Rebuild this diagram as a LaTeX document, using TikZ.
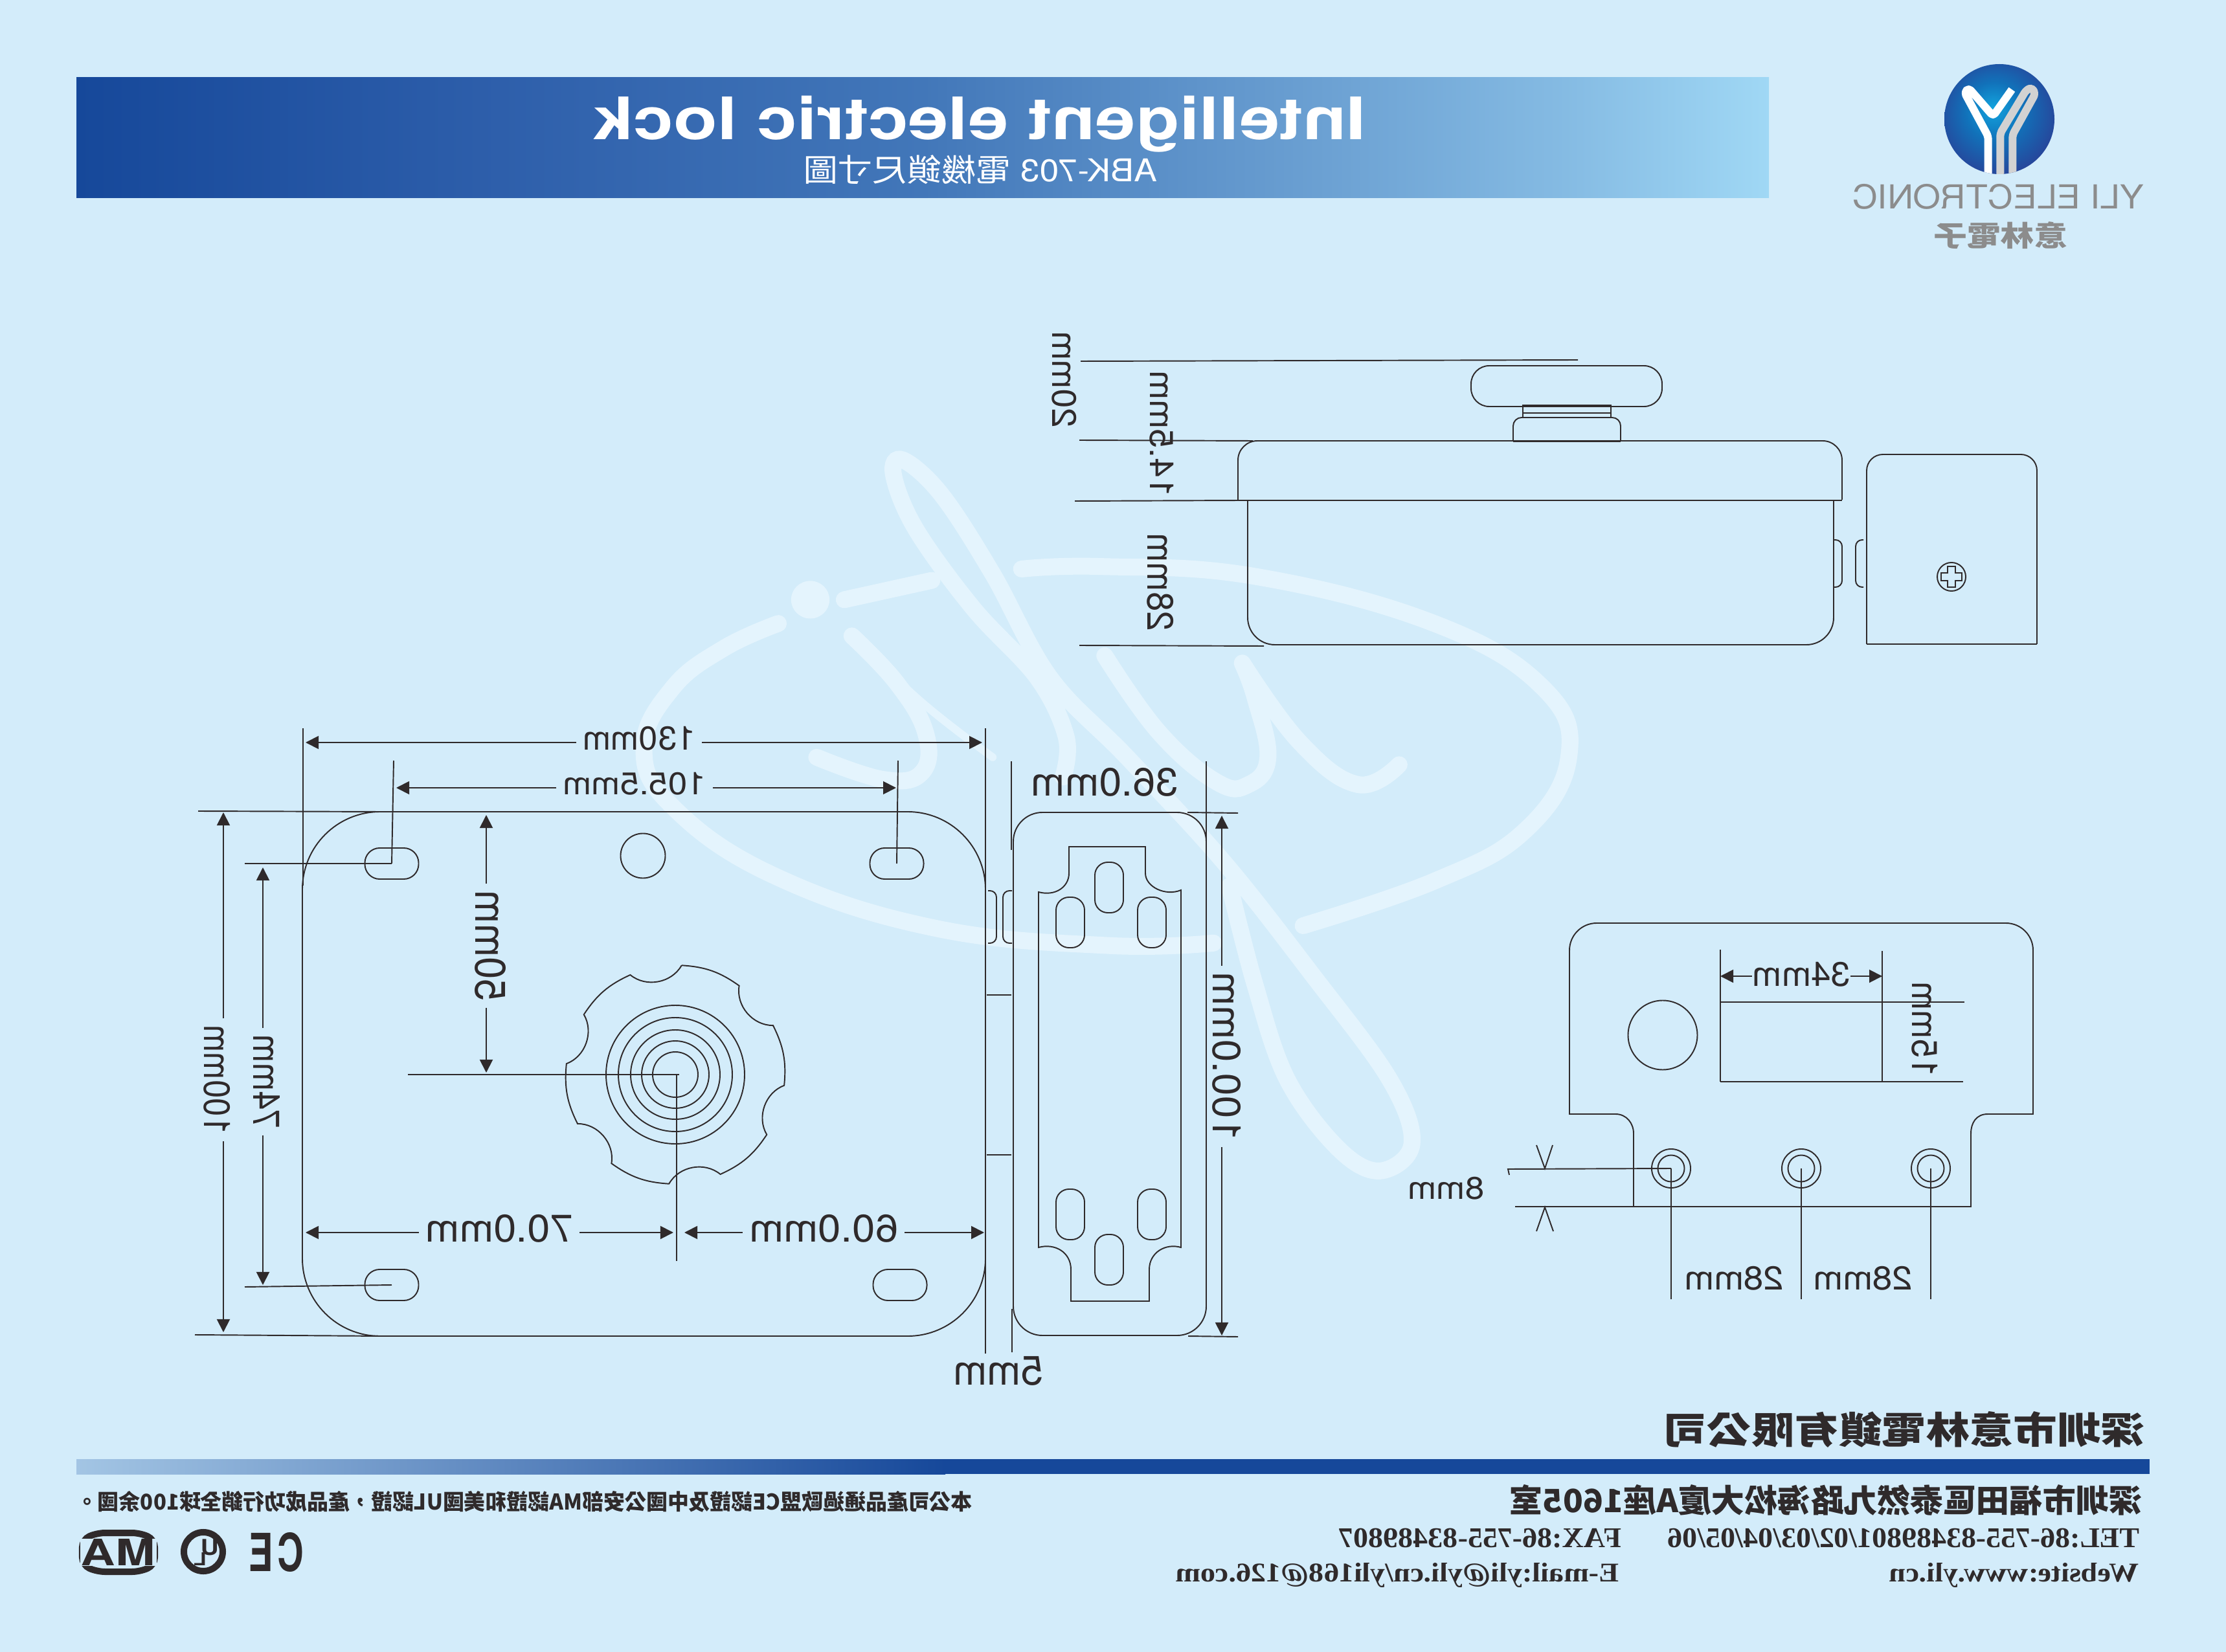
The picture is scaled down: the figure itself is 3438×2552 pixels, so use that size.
\documentclass[tikz,border=0pt]{standalone}
\usepackage{fontspec}
\usepackage{xcolor}
\usepackage{graphicx}
\setmainfont{TeX Gyre Heros}
\newfontfamily\cjk{Noto Sans CJK TC}
\newfontfamily\serfont{Liberation Serif}
\usetikzlibrary{arrows.meta}
\definecolor{bgBlue}{HTML}{D3ECFA}
\definecolor{wmark}{HTML}{E4F4FD}
\definecolor{ink}{HTML}{2F2A2B}
\definecolor{bandDark}{HTML}{16489A}
\definecolor{bandA}{HTML}{2E5FAB}
\definecolor{bandB}{HTML}{4277B9}
\definecolor{bandC}{HTML}{6EA3D4}
\definecolor{bandD}{HTML}{85BBE3}
\definecolor{bandLight}{HTML}{A0D8F5}
\definecolor{barLight}{HTML}{A3C5E4}
\definecolor{logoGray}{HTML}{8C8C8C}
\definecolor{logoIn}{HTML}{12A4DE}
\definecolor{logoMid}{HTML}{1172BA}
\definecolor{logoOut}{HTML}{27459A}
\pgfdeclareradialshading{logoball}{\pgfpoint{-3bp}{5bp}}{color(0bp)=(logoIn); color(13bp)=(logoMid); color(28bp)=(logoOut); color(50bp)=(logoOut)}
\pgfdeclarehorizontalshading{bandfade}{100bp}{color(0bp)=(bandDark); color(25bp)=(bandDark); color(37.5bp)=(bandA); color(50bp)=(bandB); color(62.5bp)=(bandC); color(69bp)=(bandD); color(75bp)=(bandLight); color(100bp)=(bandLight)}
\newcommand{\fitbox}[3]{\resizebox*{#1}{#2}{#3}}
\tikzset{
    part/.style={draw=ink, line width=.55pt},
    heavy/.style={draw=ink, line width=.85pt},
    extline/.style={draw=ink, line width=.55pt},
    dimline/.style={draw=ink, line width=.55pt, -{Triangle[length=.2cm,width=.2cm]}},
    mirtext/.style={xscale=-1, inner sep=0pt, text=ink},
    dimlabel/.style={mirtext, outer sep=.1cm},
    dimvlabel/.style={xscale=-1, rotate=90, inner sep=0pt, text=ink, outer sep=.1cm},
    slot/.style={draw=ink, line width=.55pt, rectangle, rounded corners=.23cm, minimum width=.83cm, minimum height=.48cm, inner sep=0pt},
    lug/.style={draw=ink, line width=.55pt, rectangle, rounded corners=.2cm, minimum width=.44cm, minimum height=.78cm, inner sep=0pt},
    hole/.style={draw=ink, line width=.55pt, circle, inner sep=0pt},
    swoosh/.style={draw=wmark, line width=.26cm, line cap=round}
}
\begin{document}
\begin{tikzpicture}[x=0.01cm, y=-0.01cm]
    \fill[bgBlue] (0,0) rectangle (3438,2552);
    \useasboundingbox (0,0) rectangle (3438,2552);

    \begin{scope}[shift={(950,680)}, xscale=0.9885, yscale=0.7653]
        \draw[swoosh] plot[smooth, tension=.7] coordinates {(635,260) (760,255) (1000,275) (1280,370) (1450,500) (1490,640) (1420,790) (1280,890) (1075,980)};
        \draw[swoosh] plot[smooth, tension=.7] coordinates {(935,1015) (770,1020) (500,985) (250,880) (90,740) (45,620) (90,500) (170,420) (255,370)};
        \fill[wmark] (305,322) ellipse (30 and 38);
        \draw[swoosh] (358,322) -- (495,283);
        \draw[swoosh] plot[smooth, tension=.7] coordinates {(370,395) (440,490) (485,590) (480,670) (420,685) (315,640)};
        \draw[swoosh, line width=.12cm] plot[smooth, tension=.7] coordinates {(370,395) (480,530) (590,640)};
        \draw[swoosh] plot[smooth, tension=.6] coordinates {(700,680) (705,600) (660,480) (560,340) (470,180) (435,70) (450,40) (510,110) (590,270) (680,480) (800,640) (950,850) (1090,1080) (1210,1290) (1245,1420) (1195,1475) (1130,1430) (1050,1290) (1000,1100) (960,900)};
        \draw[swoosh] plot[smooth, tension=.7] coordinates {(765,435) (850,590) (940,690) (990,695) (1020,640) (1000,520) (980,450)};
        \draw[swoosh] plot[smooth, tension=.7] coordinates {(980,450) (1070,610) (1160,695) (1225,655)};
    \end{scope}

    \path[shading=bandfade] (118,120) rectangle (2732,306);
    \node (title) [mirtext, text=white] at (1513,192) {\fitbox{11.93cm}{.87cm}{\bfseries Intelligent electric lock}};
    \node (subtitle) [mirtext, text=white] at (1514,262) {\fitbox{5.46cm}{.45cm}{ABK-703 \cjk 電機鎖尺寸圖}};

    \begin{scope}
        \clip (3088,184) circle (85);
        \path[shading=logoball] (3003,99) rectangle (3173,269);
        \begin{scope}[shift={(2960,80)}, xscale=.3333, yscale=.3333]
            \draw[white, line width=.12cm, line join=round, rounded corners=.05cm] (332,580) -- (332,392) -- (222,188) -- (242,168) -- (355,298) -- (442,175);
            \draw[gray!35!white, line width=.12cm, line join=round, rounded corners=.05cm] (388,580) -- (388,378) -- (508,178) -- (535,165) -- (550,195) -- (445,385) -- (445,580);
        \end{scope}
    \end{scope}
    \node (brand) [mirtext, text=logoGray] at (3086,304) {\fitbox{4.5cm}{.39cm}{YLI ELECTRONIC}};
    \node (brandcn) [mirtext, text=logoGray] at (3090,364) {\fitbox{2.07cm}{.42cm}{\cjk\bfseries 意林電子}};

    \draw[part] (1669,558) -- (2437,556);
    \draw[part] [rounded corners=.28cm] (2272,565) rectangle (2567,628);
    \draw[part] (2352,626) rectangle (2488,645);
    \draw[part] (2352,638) -- (2488,638);
    \draw[part] [rounded corners=.13cm] (2337,682) -- (2337,645) -- (2503,645) -- (2503,682);
    \draw[heavy] (2337,682) -- (2503,682);
    \draw[part] [rounded corners=.3cm] (1912,772) -- (1912,681) -- (2845,681) -- (2845,772);
    \draw[heavy] (1912,773) -- (2845,773);
    \draw[part] [rounded corners=.42cm] (1927,773) -- (1927,996) -- (2832,996) -- (2832,773);
    \draw[part] [rounded corners=.1cm] (2832,834) -- (2845,834) -- (2845,907) -- (2832,907);
    \draw[part] [rounded corners=.1cm] (2878,834) -- (2866,834) -- (2866,907) -- (2878,907);
    \draw[part] [rounded corners=.25cm] (2883,995) -- (2883,702) -- (3146,702) -- (3146,995);
    \draw[part] (2883,995) -- (3146,995);
    \node (screw) [hole, minimum size=.44cm] at (3014,891) {};
    \draw[part, line width=.35pt] (3008,875) -- (3020,875) -- (3020,885) -- (3030,885) -- (3030,897) -- (3020,897) -- (3020,907) -- (3008,907) -- (3008,897) -- (2998,897) -- (2998,885) -- (3008,885) -- cycle;
    \draw[extline] (1667,680) -- (1935,681);
    \draw[extline] (1660,774) -- (1917,773);
    \draw[extline] (1667,997) -- (1952,998);
    \node (lab20) [dimvlabel] at (1644,586) {\fitbox{1.49cm}{.38cm}{20mm}};
    \node (lab145) [dimvlabel] at (1794,670) {\fitbox{1.95cm}{.37cm}{14.5mm}};
    \node (lab28top) [dimvlabel] at (1792,899) {\fitbox{1.5cm}{.41cm}{28mm}};

    \draw[part, rounded corners=1.2cm] (467,1254) rectangle (1522,2064);
    \node (slotTL) [slot] at (605,1334) {};
    \node (slotTR) [slot] at (1385,1334) {};
    \node (slotBL) [slot] at (605,1985) {};
    \node (slotBR) [slot] at (1390,1985) {};
    \node (holeTop) [hole, minimum size=.69cm] at (993,1322) {};
    \foreach \r in {107,88,69,52,35} {
        \draw[part] (1043,1660) circle (\r);
    }
    \begin{scope}[shift={(1043,1660)}]
        \draw[part] (-86.7:169) \foreach \a [evaluate=\a as \b using \a+32.4, evaluate=\a as \c using \a+60] in {-86.7,-26.7,33.3,93.3,153.3,213.3} {
            to[bend left=16] (\b:169) to[bend right=50] (\c:169)
        };
    \end{scope}

    \draw[extline] (468,1125) -- (468,1368);
    \draw[extline] (1522,1125) -- (1522,2091);
    \draw[extline] (608,1175) -- (slotTL.center);
    \draw[extline] (1387,1175) -- (slotTR.center);
    \draw[extline] (306,1253) -- (590,1254);
    \draw[extline] (301,2062) -- (590,2064);
    \draw[extline] (378,1334) -- (slotTL.center);
    \draw[extline] (378,1988) -- (slotBL.center);
    \draw[extline] (630,1660) -- (1049,1660);
    \draw[extline] (1045,1661) -- (1045,1948);

    \coordinate (w130L) at (472,1147);
    \coordinate (w130R) at (1517,1147);
    \coordinate (w105L) at (612,1217);
    \coordinate (w105R) at (1384,1217);
    \coordinate (w70L) at (472,1904);
    \coordinate (w70R) at (1040,1904);
    \coordinate (w60L) at (1057,1904);
    \coordinate (w60R) at (1520,1904);
    \coordinate (h100T) at (345,1255);
    \coordinate (h100B) at (345,2058);
    \coordinate (h74T) at (406,1340);
    \coordinate (h74B) at (406,1985);
    \coordinate (h50T) at (751,1259);
    \coordinate (h50B) at (751,1657);
    \node (lab130) [dimlabel] at (987,1141) {\fitbox{1.74cm}{.37cm}{130mm}};
    \node (lab105) [dimlabel] at (980,1211) {\fitbox{2.21cm}{.35cm}{105.5mm}};
    \node (lab70) [dimlabel] at (771,1898) {\fitbox{2.28cm}{.43cm}{70.0mm}};
    \node (lab60) [dimlabel] at (1272,1898) {\fitbox{2.3cm}{.43cm}{60.0mm}};
    \node (lab100) [dimvlabel] at (335,1668) {\fitbox{1.69cm}{.41cm}{100mm}};
    \node (lab74) [dimvlabel] at (412,1671) {\fitbox{1.45cm}{.41cm}{74mm}};
    \node (lab50) [dimvlabel] at (758,1461) {\fitbox{1.71cm}{.48cm}{50mm}};
    \draw[dimline] (lab130.east |- w130L) -- (w130L);
    \draw[dimline] (lab130.west |- w130R) -- (w130R);
    \draw[dimline] (lab105.east |- w105L) -- (w105L);
    \draw[dimline] (lab105.west |- w105R) -- (w105R);
    \draw[dimline] (lab70.east |- w70L) -- (w70L);
    \draw[dimline] (lab70.west |- w70R) -- (w70R);
    \draw[dimline] (lab60.east |- w60L) -- (w60L);
    \draw[dimline] (lab60.west |- w60R) -- (w60R);
    \draw[dimline] (lab100.east -| h100T) -- (h100T);
    \draw[dimline] (lab100.west -| h100B) -- (h100B);
    \draw[dimline] (lab74.east -| h74T) -- (h74T);
    \draw[dimline] (lab74.west -| h74B) -- (h74B);
    \draw[dimline] (lab50.east -| h50T) -- (h50T);
    \draw[dimline] (lab50.west -| h50B) -- (h50B);

    \draw[part] [rounded corners=.1cm] (1526,1376) -- (1539,1376) -- (1539,1457) -- (1526,1457);
    \draw[part] [rounded corners=.1cm] (1563,1376) -- (1549,1376) -- (1549,1457) -- (1563,1457);
    \draw[part] (1524,1537) -- (1562,1537);
    \draw[part] (1524,1784) -- (1562,1784);

    \draw[part, rounded corners=.45cm] (1565,1255) rectangle (1863,2063);
    \draw[part] (1651,1308) -- (1769,1308) -- (1769,1349) .. controls (1769,1370) and (1800,1385) .. (1824,1375) -- (1824,1927) .. controls (1800,1920) and (1775,1935) .. (1775,1961) -- (1775,2010) -- (1654,2010) -- (1654,1961) .. controls (1654,1935) and (1630,1920) .. (1604,1927) -- (1604,1378) .. controls (1630,1385) and (1651,1370) .. (1651,1349) -- cycle;
    \foreach \nm/\px/\py in {lugT/1713/1371, lugTL/1653/1425, lugTR/1779/1425, lugBL/1653/1876, lugBR/1779/1876, lugB/1713/1946} {
        \node (\nm) [lug] at (\px,\py) {};
    }
    \draw[extline] (1562,1176) -- (1562,1313);
    \draw[extline] (1563,2022) -- (1563,2089);
    \draw[extline] (1863,1176) -- (1863,1311);
    \draw[extline] (1834,1255) -- (1912,1256);
    \draw[extline] (1835,2064) -- (1912,2065);
    \coordinate (h100rT) at (1887,1260);
    \coordinate (h100rB) at (1887,2063);
    \node (lab36) [mirtext] at (1706,1208) {\fitbox{2.27cm}{.44cm}{36.0mm}};
    \node (lab5) [mirtext] at (1542,2118) {\fitbox{1.39cm}{.45cm}{5mm}};
    \node (lab100r) [dimvlabel] at (1895,1632) {\fitbox{2.6cm}{.44cm}{100.0mm}};
    \draw[dimline] (lab100r.east -| h100rT) -- (h100rT);
    \draw[dimline] (lab100r.west -| h100rB) -- (h100rB);

    \draw[part] (2424,1721) [rounded corners=.42cm] -- (2424,1426) -- (3140,1426) [sharp corners] -- (3140,1721) -- (3070,1721) .. controls (3052,1721) and (3044,1735) .. (3044,1751) -- (3044,1864) -- (2523,1864) -- (2523,1751) .. controls (2523,1735) and (2512,1721) .. (2495,1721) -- cycle;
    \node (holeBox) [hole, minimum size=1.07cm] at (2568,1599) {};
    \draw[extline] (2657,1467) -- (2657,1671);
    \draw[extline] (2907,1469) -- (2907,1671);
    \draw[extline] (2657,1548) -- (3034,1548);
    \draw[extline] (2657,1671) -- (3032,1671);
    \foreach \nm/\px in {pinA/2581, pinB/2782, pinC/2982} {
        \node (\nm) [hole, minimum size=.6cm] at (\px,1805) {};
        \node (\nm in) [hole, minimum size=.41cm] at (\px,1805) {};
        \draw[extline] (\nm.center) -- (\px,2007);
    }
    \draw[extline] (2331,1815) -- (2329,1806) -- (pinA.center);
    \draw[extline] (2340,1864) -- (2523,1864);
    \draw[extline] (2373,1769) -- (2386,1805) -- (2398,1769);
    \draw[extline] (2373,1902) -- (2386,1865) -- (2399,1902);
    \coordinate (w34L) at (2657,1508);
    \coordinate (w34R) at (2907,1508);
    \node (lab34) [mirtext] at (2782,1505) {\fitbox{1.51cm}{.38cm}{34mm}};
    \node (lab15) [xscale=-1, rotate=90, inner sep=0pt, text=ink] at (2973,1590) {\fitbox{1.47cm}{.4cm}{15mm}};
    \node (lab8) [mirtext] at (2233,1836) {\fitbox{1.18cm}{.35cm}{8mm}};
    \node (lab28L) [mirtext] at (2678,1975) {\fitbox{1.53cm}{.37cm}{28mm}};
    \node (lab28R) [mirtext] at (2877,1975) {\fitbox{1.53cm}{.37cm}{28mm}};
    \draw[dimline] (lab34.east |- w34L) -- (w34L);
    \draw[dimline] (lab34.west |- w34R) -- (w34R);

    \node (company) [mirtext] at (2941,2208) {\fitbox{7.43cm}{.56cm}{\cjk\bfseries 深圳市意林電鎖有限公司}};
    \shade[left color=barLight, right color=bandDark] (118,2254) rectangle (1460,2277);
    \fill[bandDark] (1459,2254) rectangle (3320,2277);
    \node (notice) [mirtext] at (810,2320) {\fitbox{13.83cm}{.33cm}{\cjk\bfseries 本公司產品通過歐盟CE認證及中國公安部MA認證和美國UL認證，產品成功行銷全球100余國。}};
    \node (address) [mirtext] at (2820,2317) {\fitbox{9.76cm}{.48cm}{\cjk\bfseries 深圳市福田區泰然九路海松大廈A座1605室}};
    \node (tel) [mirtext] at (2940,2376) {\fitbox{7.28cm}{.3cm}{\serfont\bfseries TEL:86-755-83489801/02/03/04/05/06}};
    \node (fax) [mirtext] at (2286,2376) {\fitbox{4.36cm}{.3cm}{\serfont\bfseries FAX:86-755-83489807}};
    \node (web) [mirtext] at (3111,2433) {\fitbox{3.85cm}{.38cm}{\serfont\bfseries Website:www.yli.cn}};
    \node (mail) [mirtext] at (2158,2433) {\fitbox{6.84cm}{.38cm}{\serfont\bfseries E-mail:yli@yli.cn/yli168@126.com}};

    \draw[draw=ink, line width=.1cm, rounded corners=.12cm] (127,2378) -- (150,2368) -- (216,2368) -- (239,2378) -- (239,2418) -- (216,2428) -- (150,2428) -- (127,2418) -- cycle;
    \node (markMA) [mirtext, fill=bgBlue, inner xsep=.02cm] at (183,2398) {\fitbox{1.14cm}{.41cm}{\bfseries MA}};
    \node (markRing) [circle, draw=ink, line width=.1cm, minimum size=.6cm, inner sep=0pt] at (314,2397) {};
    \node (markU) [mirtext] at (324,2390) {\fitbox{.28cm}{.25cm}{\bfseries U}};
    \node (markL) [mirtext] at (309,2408) {\fitbox{.2cm}{.2cm}{\bfseries L}};
    \node (markCE) [mirtext] at (427,2398) {\fitbox{.84cm}{.61cm}{\bfseries C\hspace{.1em}E}};
\end{tikzpicture}
\end{document}
